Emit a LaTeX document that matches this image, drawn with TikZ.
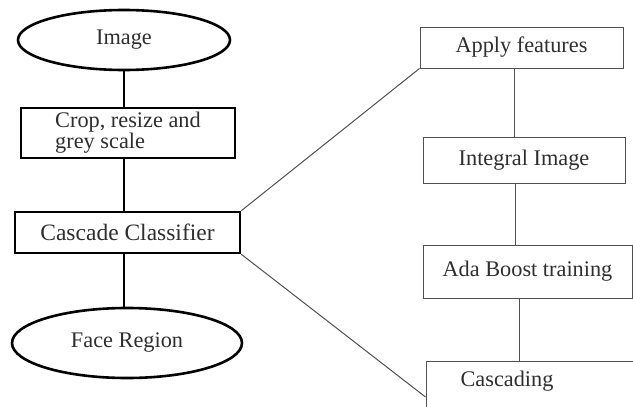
\documentclass[tikz,border=0pt]{standalone}
\usepackage{fontspec}
\setmainfont{Liberation Serif}
\usetikzlibrary{shapes.geometric}
\definecolor{ink}{HTML}{2E2E2E}
\definecolor{thinline}{HTML}{505050}
\tikzset{
  lbl/.style={text=ink, font=\fontsize{22.3}{21}\selectfont, inner sep=0pt},
  heavy/.style={draw=black, line width=2.6pt},
  light/.style={draw=thinline, line width=1pt},
  oval/.style={ellipse, heavy, lbl},
  lbox/.style={rectangle, heavy, lbl},
  rbox/.style={rectangle, light, lbl},
}
\begin{document}
\begin{tikzpicture}[x=1pt,y=-1pt]
  \useasboundingbox (0,0) rectangle (633,407);
  \begin{scope}
    \clip (0,0) rectangle (633,407);

    % main pipeline
    \node[oval, minimum width=212, minimum height=60] (img) at (124,40) {Image};
    \node[lbox, minimum width=214, minimum height=50, align=left] (crop) at (128,133)
      {Crop, resize and\\grey scale};
    \node[lbox, minimum width=225, minimum height=41] (cc) at (127.5,232.5) {\fontsize{23.5}{21}\selectfont Cascade Classifier};
    \node[oval, minimum width=230, minimum height=70] (face) at (127,343) {Face Region};

    \draw[heavy] (img.south -| 124,0) -- (crop.north -| 124,0);
    \draw[heavy] (crop.south -| 124,0) -- (cc.north -| 124,0);
    \draw[heavy] (cc.south -| 124,0) -- (face.north -| 124,0);

    % classifier stages
    \node[rbox, minimum width=203, minimum height=41] (apply) at (521.5,47.5) {Apply features};
    \node[rbox, minimum width=202, minimum height=46] (integral) at (524,160) {Integral Image};
    \node[rbox, minimum width=209, minimum height=53] (ada) at (527.5,271.5) {Ada Boost training};
    \node[rectangle, light, minimum width=210, minimum height=72] (cas) at (531,397) {};
    \node[lbl] (castext) at (507,381) {Cascading};

    \draw[light] (apply.south -| 514,0) -- (integral.north -| 514,0);
    \draw[light] (integral.south -| 515,0) -- (ada.north -| 515,0);
    \draw[light] (ada.south -| 519,0) -- (cas.north -| 519,0);

    % expansion lines
    \draw[light] (cc.north east) -- (apply.south west);
    \draw[light] (cc.south east) -- (cas.west);
  \end{scope}
\end{tikzpicture}
\end{document}
